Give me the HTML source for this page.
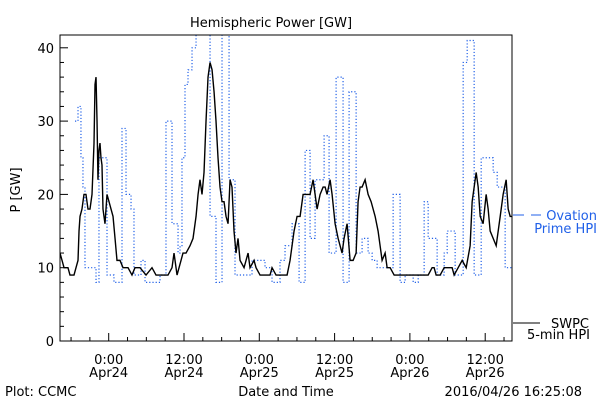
<!DOCTYPE html>
<html><head><meta charset="utf-8"><style>
body{margin:0;background:#fff}
svg text{font-family:"DejaVu Sans","Liberation Sans",sans-serif;font-size:13px}
</style></head><body>
<svg id="c" width="600" height="400" xmlns="http://www.w3.org/2000/svg"></svg>
<script>
const blackTimes=[-7.76,-7.44,-7.12,-6.49,-6.17,-5.53,-5.21,-4.89,-4.73,-4.57,-4.26,-3.94,-3.62,-3.30,-2.98,-2.66,-2.34,-2.18,-2.02,-1.86,-1.71,-1.55,-1.39,-1.23,-1.07,-0.91,-0.59,-0.27,0.05,0.37,0.69,1.01,1.32,1.80,2.28,3.08,3.71,4.19,4.99,5.95,6.90,7.54,8.18,9.45,10.09,10.41,10.73,10.89,11.21,11.53,11.84,12.32,12.96,13.44,13.92,14.24,14.55,14.87,15.19,15.51,15.83,16.15,16.47,16.79,17.10,17.42,17.74,18.06,18.38,18.70,19.02,19.34,19.65,19.97,20.29,20.61,20.93,21.57,22.21,22.52,23.16,23.48,24.12,25.71,26.03,26.67,28.43,28.90,29.54,30.02,30.50,30.98,31.46,32.09,32.57,32.89,33.21,33.69,34.17,34.49,34.80,35.28,35.60,36.08,36.56,37.19,37.51,37.99,38.47,38.95,39.43,39.74,40.06,40.38,40.86,41.34,41.82,42.46,42.93,43.25,43.57,44.05,44.37,44.85,45.49,46.44,47.72,50.91,51.54,51.86,52.18,52.82,53.46,54.73,55.05,55.69,56.33,56.97,57.60,57.92,58.56,58.88,59.20,59.67,60.15,60.47,60.79,61.27,61.75,62.39,62.86,63.34,63.66,63.98,64.30];
const blackValues=[12,11,10,10,9,9,10,11,15,17,18,20,20,18,18,20,27,35,36,30,22,26,27,25,24,18,16,20,19,18,17,14,11,11,10,10,9,10,10,9,10,9,9,9,10,12,10,9,10,11,12,12,13,14,17,20,22,20,23,30,36,38,37,34,30,25,21,19,19,17,16,22,21,15,12,14,11,10,12,10,11,10,9,9,10,9,9,11,15,17,17,20,20,20,22,20,18,20,21,21,20,22,20,16,14,12,14,16,11,11,12,19,21,21,22,20,19,17,15,13,11,12,10,10,9,9,9,9,10,10,9,9,10,10,9,10,11,10,13,19,23,21,17,16,20,18,15,14,13,17,20,22,18,17,17];
const blueStarts=[-5.37,-4.89,-4.42,-4.10,-3.78,-2.02,-1.55,-0.27,0.84,2.12,2.76,3.56,4.03,5.15,5.79,8.18,9.13,10.09,11.05,11.37,11.68,12.16,12.64,13.28,13.92,16.15,17.10,18.06,19.18,20.13,22.84,24.91,26.03,27.30,28.10,29.22,30.34,31.30,32.09,32.89,34.33,35.12,36.24,37.35,38.31,39.43,40.38,41.34,41.98,42.78,45.33,46.44,47.24,48.52,49.32,50.27,50.91,52.34,53.46,53.94,55.21,56.49,57.13,58.24,59.36,61.27,61.91,63.18];
const blueValues=[30,32,25,21,10,8,25,9,8,29,20,18,9,11,8,9,30,16,12,13,25,35,37,40,42,17,8,42,22,9,11,10,8,11,13,16,8,26,14,22,28,12,36,8,34,12,14,12,11,10,20,8,9,8,9,19,14,9,12,15,9,38,41,9,25,23,21,10];
const blueEnd=64.3;
const yTicks=[0,10,20,30,40];
const xTickHours=[0,12,24,36,48,60];
const xTickTimes=["0:00","12:00","0:00","12:00","0:00","12:00"];
const xTickDates=["Apr24","Apr24","Apr25","Apr25","Apr26","Apr26"];

const L=60,R=512,T=35,B=341;
const X=h=>108.7+h*6.275;
const Y=v=>341-v*7.33;
const ns="http://www.w3.org/2000/svg";
const svg=document.getElementById('c');
function mk(tag,attrs,name,parent){const e=document.createElementNS(ns,tag);for(const k in attrs)e.setAttribute(k,attrs[k]);


(parent||svg).appendChild(e);return e;}
function txt(x,y,s,name,anchor,fill){const t=mk('text',{x:x,y:y,'text-anchor':anchor||'start',fill:fill||'#000'},name);t.textContent=s;return t;}

const defs=mk('defs',{},'defs');
const cp=mk('clipPath',{id:'clip'},'clip',defs);
mk('rect',{x:L,y:T,width:R-L,height:B-T},'clip-rect',cp);

let bp=[];
for(let i=0;i<blueStarts.length;i++){const x0=X(blueStarts[i]),x1=X(i+1<blueStarts.length?blueStarts[i+1]:blueEnd),y=Y(blueValues[i]);bp.push(x0+','+y,x1+','+y);}
mk('polyline',{points:bp.join(' '),fill:'none',stroke:'#2060e8','stroke-width':1.2,'stroke-dasharray':'1.2,2','clip-path':'url(#clip)'},'ovation-prime-series');
let kp=blackTimes.map((t,i)=>X(t)+','+Y(blackValues[i]));
mk('polyline',{points:kp.join(' '),fill:'none',stroke:'#000','stroke-width':1.4,'clip-path':'url(#clip)'},'swpc-series');

mk('rect',{x:L,y:T,width:R-L,height:B-T,fill:'none',stroke:'#000','stroke-width':1},'plot-frame');
for(let v=0;v<=40;v+=2){const major=v%10===0;mk('line',{x1:L,x2:L+(major?8:4),y1:Y(v),y2:Y(v),stroke:'#000'},'y-tick');}
yTicks.forEach(v=>txt(L-6,Y(v)+5,String(v),'y-tick-label','end'));
for(let h=-6;h<=64;h+=3){const major=h%12===0;mk('line',{x1:X(h),x2:X(h),y1:B,y2:B-(major?8:4),stroke:'#000'},'x-tick');}
xTickHours.forEach((h,i)=>{txt(X(h),364,xTickTimes[i],'x-tick-time','middle');txt(X(h),377,xTickDates[i],'x-tick-date','middle');});

txt(271,27,'Hemispheric Power [GW]','chart-title','middle').setAttribute('font-size','15');
const yt=txt(0,0,'P [GW]','y-axis-title','middle');yt.setAttribute('transform','translate(20,190) rotate(-90)');
txt(286,396,'Date and Time','x-axis-title','middle');
txt(5,396,'Plot: CCMC','credit');
txt(582,396,'2016/04/26 16:25:08','timestamp','end');

mk('line',{x1:513,x2:524,y1:215,y2:215,stroke:'#2060e8'},'legend-ovation-line');
mk('line',{x1:531,x2:541,y1:215,y2:215,stroke:'#2060e8'},'legend-ovation-line2');
txt(597,220,'Ovation','legend-ovation-label','end','#2060e8');
txt(597,233,'Prime HPI','legend-ovation-label2','end','#2060e8');
mk('line',{x1:513,x2:540,y1:323,y2:323,stroke:'#000'},'legend-swpc-line');
txt(589,328,'SWPC','legend-swpc-label','end');
txt(590,339,'5-min HPI','legend-swpc-label2','end');
</script>
</body></html>
